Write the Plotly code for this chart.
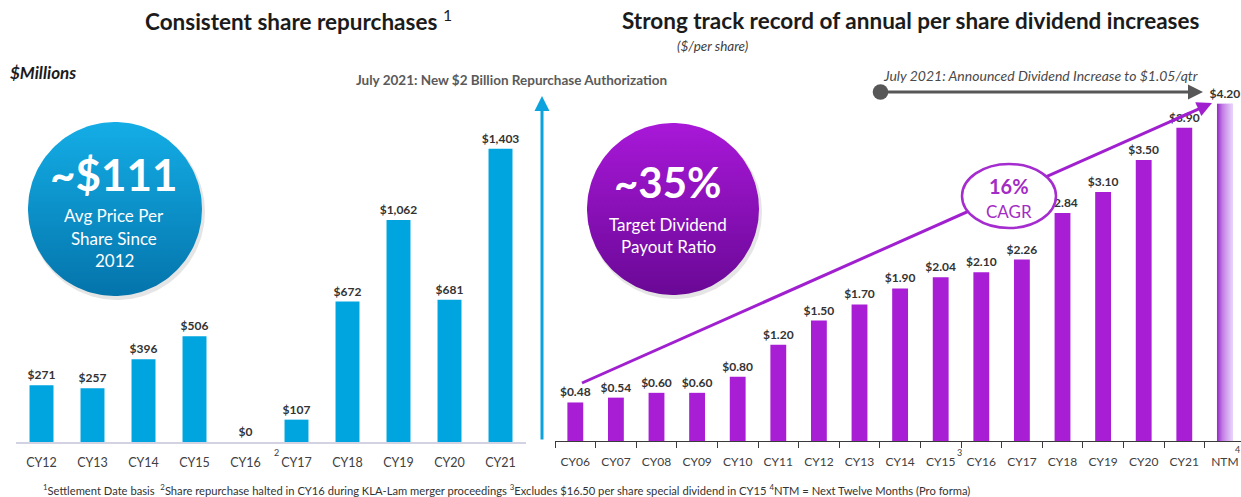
import numpy as np
import plotly.graph_objects as go

W, H = 1241, 497
FONT = "Lato"

# ---------------- data ----------------
rep_years = ["CY12", "CY13", "CY14", "CY15", "CY16", "CY17", "CY18", "CY19", "CY20", "CY21"]
rep_values = [271, 257, 396, 506, 0, 107, 672, 1062, 681, 1403]

div_years = ["CY06", "CY07", "CY08", "CY09", "CY10", "CY11", "CY12", "CY13", "CY14",
             "CY15", "CY16", "CY17", "CY18", "CY19", "CY20", "CY21", "NTM"]
div_values = [0.48, 0.54, 0.60, 0.60, 0.80, 1.20, 1.50, 1.70, 1.90,
              2.04, 2.10, 2.26, 2.84, 3.10, 3.50, 3.90, 4.20]


def px(x):
    return x / W


def py(y):
    return 1 - y / H


BLUE = "#00a5df"
PURPLE = "#a81ed4"
LABEL_FONT = dict(family=FONT, size=12, color="#333333", weight="bold")

fig = go.Figure()

# left: share repurchases
fig.add_trace(go.Bar(
    x=rep_years, y=rep_values, marker_color=BLUE, marker_line_width=0, width=0.47,
    texttemplate="$%{y:,}", textposition="outside", textfont=LABEL_FONT, constraintext="none",
    cliponaxis=False, xaxis="x", yaxis="y", hoverinfo="skip"))

# right: dividends per share
div_idx = list(range(len(div_years)))
div_colors = [PURPLE] * (len(div_years) - 1) + ["#d6acef"]
fig.add_trace(go.Bar(
    x=div_idx, y=div_values, marker_color=div_colors, marker_line_width=0, width=0.39,
    texttemplate="$%{y:.2f}", textposition="outside", textfont=LABEL_FONT, constraintext="none",
    cliponaxis=False, xaxis="x2", yaxis="y2", hoverinfo="skip"))

# gradient overlay for the NTM (pro forma) bar
bw = 0.39 / 2
ni = div_idx[-1]
nv = div_values[-1]
fig.add_trace(go.Scatter(
    x=[ni - bw, ni + bw, ni + bw, ni - bw, ni - bw], y=[0, 0, nv, nv, 0],
    mode="lines", line=dict(width=0), fill="toself",
    fillgradient=dict(type="horizontal", colorscale=[[0, "#9628c8"], [0.35, "#c27ee6"], [1, "#ead6fa"]]),
    xaxis="x2", yaxis="y2", hoverinfo="skip", showlegend=False))


# gradient badges (pixel overlay)
def circle(cx, cy, r, n=160):
    t = np.linspace(0, 2 * np.pi, n)
    return cx + r * np.cos(t), cy + r * np.sin(t)


for (cx, cy, r, c_top, c_bot) in [(115, 209, 87, "#14ade6", "#0474ab"),
                                 (673, 209, 86, "#a818d8", "#6a0896")]:
    sx, sy = circle(cx + 2, cy + 3, r + 1)
    fig.add_trace(go.Scatter(x=sx, y=sy, mode="lines", line=dict(width=0), fill="toself",
                             fillcolor="rgba(0,0,0,0.10)", xaxis="x3", yaxis="y3",
                             hoverinfo="skip", showlegend=False))
    cxs, cys = circle(cx, cy, r)
    fig.add_trace(go.Scatter(x=cxs, y=cys, mode="lines", line=dict(width=0), fill="toself",
                             fillgradient=dict(type="vertical", colorscale=[[0, c_bot], [1, c_top]]),
                             xaxis="x3", yaxis="y3", hoverinfo="skip", showlegend=False))

# ---------------- layout ----------------
fig.update_layout(
    width=W, height=H, margin=dict(l=0, r=0, t=0, b=0),
    paper_bgcolor="white", plot_bgcolor="rgba(0,0,0,0)",
    showlegend=False, font=dict(family=FONT, color="#404040"),
    xaxis=dict(domain=[px(16), px(526)], range=[-0.5, len(rep_years) - 0.5], type="category",
               showline=True, linecolor="#d2d2e2", linewidth=1.5, ticks="",
               tickfont=dict(family=FONT, size=12.5, color="#404040"), ticklabelstandoff=8,
               showgrid=False, zeroline=False, anchor="y", fixedrange=True),
    yaxis=dict(domain=[py(442), py(60)], range=[0, (442 - 60) / 0.209], visible=False,
               anchor="x", fixedrange=True),
    xaxis2=dict(domain=[px(555), 1], range=[-0.5, -0.5 + (W - 555) / 40.6],
                tickmode="array", tickvals=div_idx, ticktext=div_years, ticks="",
                showline=True, linecolor="#3a3a3a", linewidth=1,
                minor=dict(tickmode="array", tickvals=[i - 0.5 for i in range(len(div_years) + 1)],
                           ticks="outside", ticklen=6, tickwidth=1, tickcolor="#3a3a3a"),
                tickfont=dict(family=FONT, size=12, color="#404040"), ticklabelstandoff=10,
                showgrid=False, zeroline=False, anchor="y2", fixedrange=True),
    yaxis2=dict(domain=[py(441), py(60)], range=[0, (441 - 60) / 80.3], visible=False,
                anchor="x2", fixedrange=True),
    xaxis3=dict(domain=[0, 1], range=[0, W], visible=False, anchor="y3", fixedrange=True),
    yaxis3=dict(domain=[0, 1], range=[H, 0], visible=False, anchor="x3", fixedrange=True),
)

# CAGR trend line and oval
fig.add_shape(type="line", xref="paper", yref="paper",
              x0=px(582), y0=py(383), x1=px(1190), y1=py(112.8),
              line=dict(color="#a020d0", width=3), layer="above")
fig.add_shape(type="circle", xref="paper", yref="paper",
              x0=px(962), x1=px(1056), y0=py(228), y1=py(164),
              fillcolor="white", line=dict(color="#a52ccf", width=2.5), layer="above")

ann = []
# arrows
ann.append(dict(x=px(1212), y=py(103), ax=-42, ay=18.7, xref="paper", yref="paper",
                text="", showarrow=True, arrowhead=2, arrowsize=1, arrowwidth=3, arrowcolor="#a020d0"))
ann.append(dict(x=px(542), y=py(96), ax=0, ay=345, xref="paper", yref="paper",
                text="", showarrow=True, arrowhead=2, arrowsize=1, arrowwidth=3, arrowcolor="#0ba3dd"))
ann.append(dict(x=px(1203), y=py(92), ax=-324, ay=0, xref="paper", yref="paper",
                text="", showarrow=True, arrowhead=2, arrowsize=1, arrowwidth=3, arrowcolor="#575757",
                arrowside="end+start", startarrowhead=6, startarrowsize=1.3))


def txt(x, y, s, size, color="#1b1b1b", xanchor="center"):
    ann.append(dict(x=px(x), y=py(y), xref="paper", yref="paper", text=s, showarrow=False,
                    xanchor=xanchor, yanchor="middle",
                    font=dict(family=FONT, size=size, color=color)))


txt(298, 20, "<b>Consistent share repurchases</b> <sup>1</sup>", 22.5)
txt(910, 20, "<b>Strong track record of annual per share dividend increases</b>", 22.5)
txt(712, 46, "<i>($/per share)</i>", 13.5, "#404040")
txt(8, 73, "<b><i>$Millions</i></b>", 17, "#1b1b1b", xanchor="left")
txt(511, 80, "<b>July 2021: New $2 Billion Repurchase Authorization</b>", 13.5, "#5a5a5a")
txt(1040, 75, "<i>July 2021: Announced Dividend Increase to $1.05/qtr</i>", 14, "#4a4a4a")

# badge texts
txt(114, 174, "<b>~$111</b>", 44, "white")
txt(114, 216, "Avg Price Per", 17, "white")
txt(114, 238, "Share Since", 17, "white")
txt(114, 260, "2012", 17, "white")
txt(668, 182, "<b>~35%</b>", 42, "white")
txt(668, 224, "Target Dividend", 17, "white")
txt(668, 246, "Payout Ratio", 17, "white")

# CAGR oval
txt(1009, 186, "<b>16%</b>", 20, "#a32cc4")
txt(1009, 211, "CAGR", 17, "#a32cc4")

# footnote markers
txt(276, 452, "2", 9, "#404040")
txt(959, 452, "3", 9, "#404040")
txt(1237, 449, "4", 9, "#404040")

# footnote
txt(506, 489, "<sup>1</sup>Settlement Date basis  <sup>2</sup>Share repurchase halted in CY16 during KLA-Lam merger proceedings "
              "<sup>3</sup>Excludes $16.50 per share special dividend in CY15 <sup>4</sup>NTM = Next Twelve Months (Pro forma)",
    11.2, "#333333")

fig.update_layout(annotations=ann)

fig.write_html("out.html", config={"displayModeBar": False},
               post_script="document.body.style.margin='0';document.body.style.padding='0';")
